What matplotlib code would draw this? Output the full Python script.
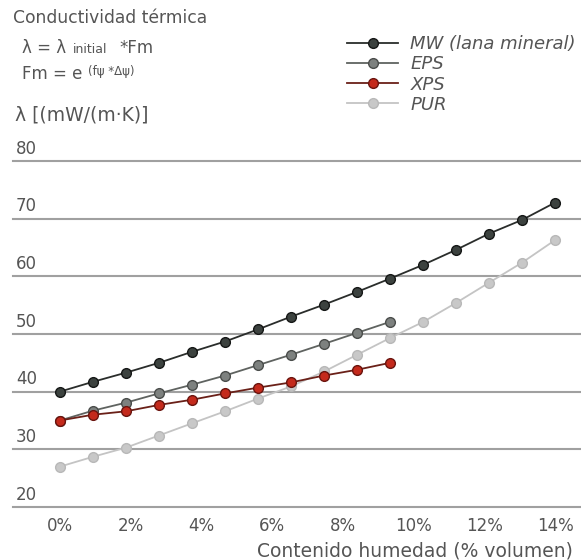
import matplotlib.pyplot as plt
import matplotlib.transforms as mtransforms

humedad = [0, 0.93, 1.87, 2.8, 3.73, 4.67, 5.6, 6.53, 7.47, 8.4, 9.33,
           10.27, 11.2, 12.13, 13.07, 14.0]
mw = [40.0, 41.7, 43.3, 45.0, 46.9, 48.7, 50.8, 53.0, 55.1, 57.3, 59.6,
      62.0, 64.6, 67.4, 69.8, 72.8]
eps = [35.0, 36.7, 38.1, 39.7, 41.2, 42.8, 44.6, 46.4, 48.3, 50.2, 52.1]
xps = [35.0, 36.0, 36.6, 37.7, 38.6, 39.7, 40.7, 41.6, 42.8, 43.8, 45.0]
pur = [27.0, 28.7, 30.3, 32.4, 34.5, 36.6, 38.8, 40.9, 43.5, 46.4, 49.3,
       52.1, 55.4, 58.9, 62.4, 66.3]
yticks = [20, 30, 40, 50, 60, 70, 80]
xticks = [0, 2, 4, 6, 8, 10, 12, 14]

txt = '#555555'
plt.rcParams['font.family'] = ['DejaVu Sans']

fig = plt.figure(figsize=(5.81, 5.60), dpi=100)
ax = fig.add_axes([0.022, 0.0946, 0.978, 0.6179])

ax.plot(humedad[:len(pur)], pur, marker='o', color='#c4c4c4', mfc='#c8c8c8',
        mec='#b8b8b8', lw=1.3, ms=7, label='PUR', zorder=3)
ax.plot(humedad[:len(eps)], eps, marker='o', color='#5f6360', mfc='#7d817f',
        mec='#4a4d4b', lw=1.3, ms=7, label='EPS', zorder=4)
ax.plot(humedad[:len(xps)], xps, marker='o', color='#6a2018', mfc='#c42a1c',
        mec='#6a140e', lw=1.3, ms=7, label='XPS', zorder=5)
ax.plot(humedad, mw, marker='o', color='#2a2d2b', mfc='#3c423f',
        mec='#151716', lw=1.3, ms=7, label='MW (lana mineral)', zorder=6)

ax.set_xlim(-1.33, 14.73)
ax.set_ylim(20, 80)
for s in ax.spines.values():
    s.set_visible(False)
ax.set_yticks(yticks)
ax.set_yticklabels([])
ax.tick_params(axis='y', length=0)
ax.grid(axis='y', color='#a0a0a0', lw=1.5)
for gl in ax.get_ygridlines():
    gl.set_clip_on(False)
ax.set_axisbelow(True)
ax.set_xticks(xticks)
ax.set_xticklabels([f'{t}%' for t in xticks], color=txt, fontsize=12)
ax.tick_params(axis='x', length=0, pad=7)

trans = mtransforms.blended_transform_factory(fig.transFigure, ax.transData)
for t in yticks:
    ax.text(16 / 581, t + 0.6, str(t), transform=trans, color=txt,
            fontsize=12, va='bottom', ha='left')

fig.text(573 / 581, 1 - 551 / 560, 'Contenido humedad (% volumen)',
         color=txt, fontsize=13.5, ha='right', va='center')
fig.text(13 / 581, 1 - 18 / 560, 'Conductividad térmica', color=txt,
         fontsize=12.3, va='center')
fig.text(15 / 581, 1 - 115 / 560, 'λ [(mW/(m·K)]', color=txt,
         fontsize=13.5, va='center')

# formulas
y1 = 1 - 53 / 560
fig.text(22 / 581, y1, 'λ = λ', color=txt, fontsize=12, va='baseline')
fig.text(73 / 581, y1, 'initial', color=txt, fontsize=9, va='baseline')
fig.text(119 / 581, y1, '*Fm', color=txt, fontsize=12, va='baseline')
y2 = 1 - 79 / 560
fig.text(22 / 581, y2, 'Fm = e', color=txt, fontsize=12, va='baseline')
fig.text(88 / 581, y2 + 0.008, '(fψ *Δψ)', color=txt, fontsize=8.5,
         va='baseline')

h, l = ax.get_legend_handles_labels()
order = [3, 1, 2, 0]
leg = fig.legend([h[i] for i in order], [l[i] for i in order],
                 loc='upper left', bbox_to_anchor=(340 / 581, 1 - 28 / 560),
                 frameon=False, fontsize=13, handlelength=2.8,
                 labelspacing=0.12, handletextpad=0.7, borderaxespad=0)
for t in leg.get_texts():
    t.set_color(txt)
    t.set_style('italic')

fig.savefig('out.png', dpi=100)
